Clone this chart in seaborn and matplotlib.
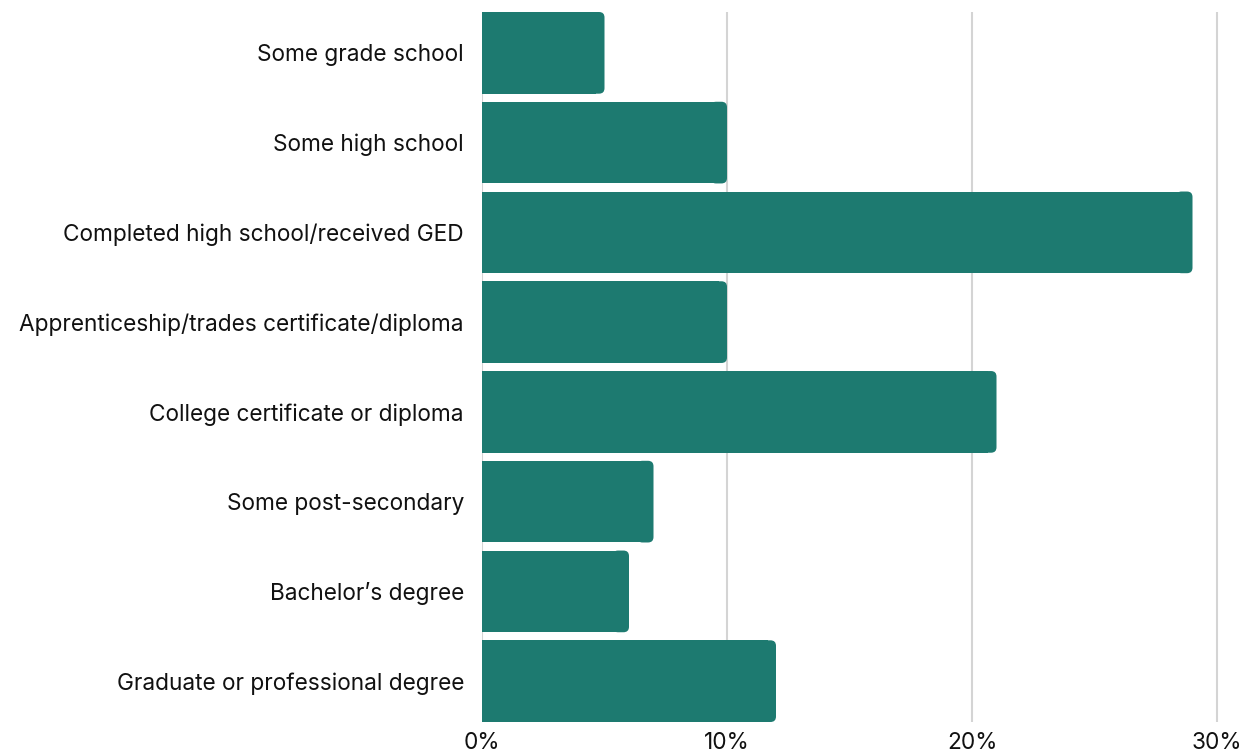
import matplotlib
matplotlib.use("Agg")
import matplotlib.pyplot as plt
import seaborn as sns
import pandas as pd
from matplotlib.patches import FancyBboxPatch

categories = [
    "Some grade school",
    "Some high school",
    "Completed high school/received GED",
    "Apprenticeship/trades certificate/diploma",
    "College certificate or diploma",
    "Some post-secondary",
    "Bachelor\u2019s degree",
    "Graduate or professional degree",
]
values = [5, 10, 29, 10, 21, 7, 6, 12]
tick_values = [0, 10, 20, 30]
tick_labels = ["0%", "10%", "20%", "30%"]

df = pd.DataFrame({"category": categories, "value": values})

sns.set_theme(style="white")
plt.rcParams["font.family"] = ["Inter", "DejaVu Sans"]

W, H = 1247, 753
fig = plt.figure(figsize=(W / 100, H / 100), dpi=100)
ax = fig.add_axes([482 / W, 1 - 722 / H, (W - 482) / W, (722 - 12) / H])

color = "#1d7a70"
bw = 0.91
sns.barplot(data=df, x="value", y="category", orient="h", color=color,
            width=bw, saturation=1, ax=ax, zorder=3, linewidth=0, edgecolor=color)

px_per_unit_x = 24.5
xmax = (W - 482) / px_per_unit_x
ax.set_xlim(0, xmax)
ax.set_ylim(len(categories) - 1 + bw / 2, -bw / 2)

# rounded right corners
r_px = 5.5
rx = r_px / px_per_unit_x
py = (722 - 12) / (len(categories) - 1 + bw)
ry = r_px / py
for p in list(ax.patches):
    x, y, w, h = p.get_x(), p.get_y(), p.get_width(), p.get_height()
    p.set_width(w - 1.5 * rx)
    fb = FancyBboxPatch((x + w - 2 * rx, y + ry), rx, h - 2 * ry,
                        boxstyle=f"round,pad={rx},rounding_size={rx}",
                        mutation_aspect=ry / rx, facecolor=color, edgecolor="none",
                        zorder=3, linewidth=0)
    ax.add_patch(fb)

ax.set_xticks(tick_values)
ax.set_xticklabels(tick_labels)
for v in tick_values:
    ax.axvline(v, color="#d4d4d4", linewidth=1.5, zorder=1)

for s in ax.spines.values():
    s.set_visible(False)
ax.set_xlabel("")
ax.set_ylabel("")
ax.tick_params(axis="x", length=0, pad=7, labelsize=16.3, colors="#111111")
ax.tick_params(axis="y", length=0, pad=13, labelsize=16.3, colors="#111111")

fig.savefig("out.png", dpi=100, facecolor="white")
